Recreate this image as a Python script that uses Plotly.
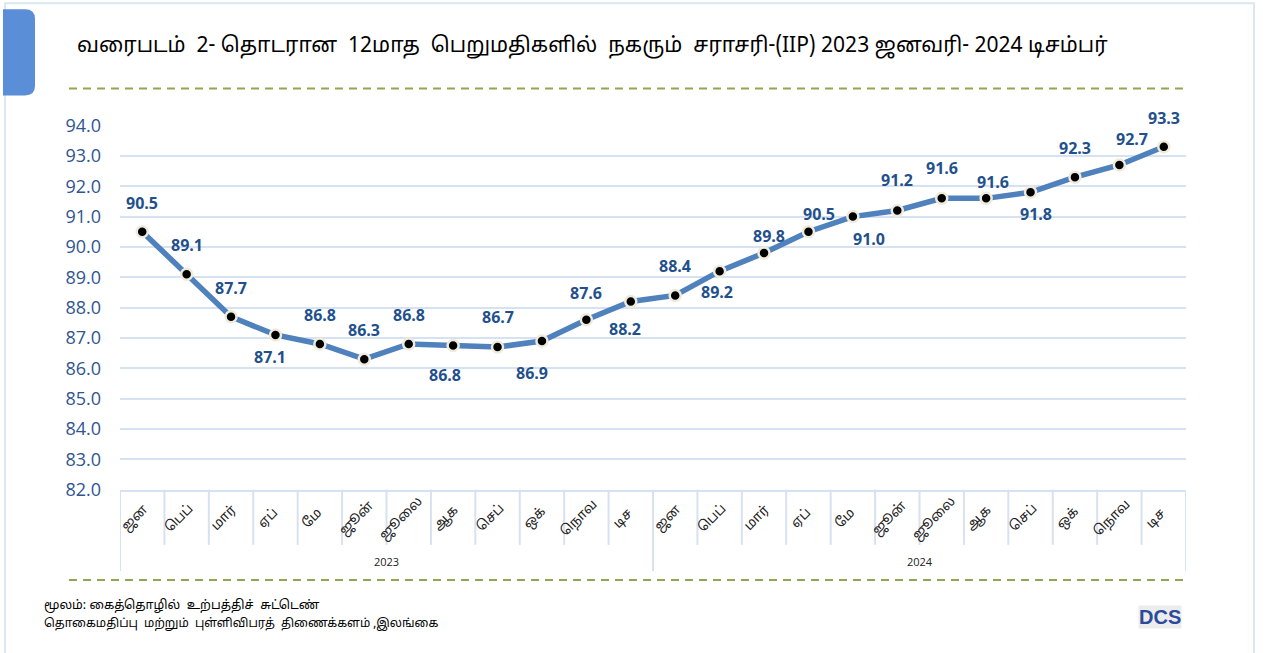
import plotly.graph_objects as go

# ---------------- data ----------------
months = ["ஜன", "பெப்", "மார்", "ஏப்", "மே", "ஜூன்", "ஜூலை", "ஆக", "செப்", "ஒக்", "நொவ", "டிச"]
years = ["2023", "2024"]
values_2023 = [90.5, 89.1, 87.7, 87.1, 86.8, 86.3, 86.8, 86.75, 86.7, 86.9, 87.6, 88.2]
values_2024 = [88.4, 89.2, 89.8, 90.5, 91.0, 91.2, 91.6, 91.6, 91.8, 92.3, 92.7, 93.3]
y_ticks = [82.0, 83.0, 84.0, 85.0, 86.0, 87.0, 88.0, 89.0, 90.0, 91.0, 92.0, 93.0, 94.0]

title_text = "வரைபடம்  2- தொடரான  12மாத  பெறுமதிகளில்  நகரும்  சராசரி-(IIP) 2023 ஜனவரி- 2024 டிசம்பர்"
source_line1 = "மூலம்: கைத்தொழில்  உற்பத்திச்  சுட்டெண்"
source_line2 = "தொகைமதிப்பு  மற்றும்  புள்ளிவிபரத்  திணைக்களம் ,இலங்கை"

# label offsets in px (style only): (xshift, yshift)
label_offsets = [
    (0, 28), (0, 28), (0, 28), (-5, -21), (0, 28), (0, 28), (0, 28), (-8, -28),
    (0, 29), (-10, -31), (0, 26), (-6, -26),
    (0, 28), (-3, -20), (5, 16), (11, 17), (16, -22), (0, 29), (0, 29), (7, 16),
    (5, -21), (0, 28), (13, 25), (0, 28),
]

W, H = 1267, 666
SY, OY = 0.961, 12.8   # observed vertical mapping of the capture

values = values_2023 + values_2024
n = len(values)
xs = list(range(n))

def px_x(p):
    return p / W

def px_y(p):
    return 1 - ((p - OY) / SY) / H

fig = go.Figure()
fig.add_trace(go.Scatter(
    x=xs, y=values, mode="lines+markers",
    line=dict(color="#4F81BD", width=5.5),
    marker=dict(color="black", size=11, line=dict(color="#EFEBDC", width=2.5)),
    hoverinfo="skip", showlegend=False, cliponaxis=False,
))

annotations = []
label_font = dict(family="Open Sans, Noto Sans, sans-serif", size=16, color="#22508C")
for i, v in enumerate(values):
    dx, dy = label_offsets[i]
    annotations.append(dict(
        x=i, y=v, xref="x", yref="y", text=f"<b>{v:.1f}</b>", showarrow=False,
        xshift=dx, yshift=dy / SY, font=label_font,
    ))

# month labels
all_months = months * len(years)
for i, m in enumerate(all_months):
    annotations.append(dict(
        x=i, y=px_y(517), xref="x", yref="paper", yanchor="middle", text=m, showarrow=False,
        textangle=-45, xshift=-7, font=dict(size=13.5, color="#222222",
                                             family="Noto Sans Tamil, Latha, Noto Sans, sans-serif"),
    ))
# year labels
for k, yr in enumerate(years):
    annotations.append(dict(
        x=k * len(months) + (len(months) - 1) / 2, y=px_y(560), xref="x", yref="paper",
        yanchor="middle", text=yr, showarrow=False,
        font=dict(size=11, color="#222222", family="Open Sans, sans-serif"),
    ))

# title
annotations.append(dict(
    x=px_x(75), y=px_y(47), xref="paper", yref="paper", xanchor="left", yanchor="middle",
    text=title_text, showarrow=False,
    font=dict(size=21, color="black", family="Noto Sans Tamil, Latha, Open Sans, sans-serif"),
))
# source
annotations.append(dict(
    x=px_x(42), y=px_y(604), xref="paper", yref="paper", xanchor="left", yanchor="middle",
    text=source_line1, showarrow=False,
    font=dict(size=12.5, color="black", family="Noto Sans Tamil, Latha, Noto Sans, sans-serif"),
))
annotations.append(dict(
    x=px_x(42), y=px_y(622), xref="paper", yref="paper", xanchor="left", yanchor="middle",
    text=source_line2, showarrow=False,
    font=dict(size=12, color="black", family="Noto Sans Tamil, Latha, Noto Sans, sans-serif"),
))
# logo
annotations.append(dict(
    x=px_x(1160), y=px_y(615), xref="paper", yref="paper", xanchor="center", yanchor="middle",
    text="<b>DCS</b>", showarrow=False, bgcolor="#ECECEC", borderpad=0,
    font=dict(size=20, color="#2A4B9B", family="Arial, Liberation Sans, sans-serif"),
))

grid_col = "#D6E1F1"
shapes = []
# outer border
shapes.append(dict(type="rect", xref="paper", yref="paper", x0=px_x(5), x1=px_x(1254),
                   y0=-0.05, y1=px_y(3), line=dict(color="#DCE6F4", width=2), layer="below"))
# blue tab with rounded right corners
x0, x1, yt, yb, r = px_x(3), px_x(35), px_y(9), px_y(95), 10
rx, ry = r / W, r / H
path = (f"M {x0},{yt} L {x1 - rx},{yt} Q {x1},{yt} {x1},{yt - ry} "
        f"L {x1},{yb + ry} Q {x1},{yb} {x1 - rx},{yb} L {x0},{yb} Z")
shapes.append(dict(type="path", xref="paper", yref="paper", path=path,
                   fillcolor="#5A8ED6", line=dict(width=0)))
# dashed separators
for yp in (88, 578):
    shapes.append(dict(type="line", xref="paper", yref="paper", x0=px_x(69), x1=px_x(1186),
                       y0=px_y(yp), y1=px_y(yp),
                       line=dict(color="#8EA84F", width=2, dash="8px,6px")))
# category dividers
for k in range(n + 1):
    bottom = 569 if k % len(months) == 0 else 543
    shapes.append(dict(type="line", xref="x", yref="paper", x0=k - 0.5, x1=k - 0.5,
                       y0=px_y(488), y1=px_y(bottom), line=dict(color=grid_col, width=2)))

fig.update_layout(
    width=W, height=H, autosize=False,
    margin=dict(l=0, r=0, t=0, b=0),
    paper_bgcolor="white", plot_bgcolor="white",
    xaxis=dict(domain=[px_x(120), px_x(1186)], range=[-0.5, n - 0.5], showticklabels=False,
               showgrid=False, zeroline=False, showline=True, linecolor=grid_col, linewidth=2,
               ticks="", fixedrange=True),
    yaxis=dict(domain=[px_y(488), px_y(125)], range=[82, 94], tickvals=y_ticks,
               tickformat=".1f", showgrid=True, gridcolor=grid_col, gridwidth=2,
               zeroline=False, showline=False, ticks="", ticklabelstandoff=18,
               tickfont=dict(size=18, color="#2F5592", family="Open Sans, Noto Sans, sans-serif"),
               fixedrange=True),
    annotations=annotations, shapes=shapes,
    showlegend=False,
)

fig.write_html("out.html", config={"displayModeBar": False},
               post_script="document.body.style.margin='0';document.body.style.overflow='hidden';")
